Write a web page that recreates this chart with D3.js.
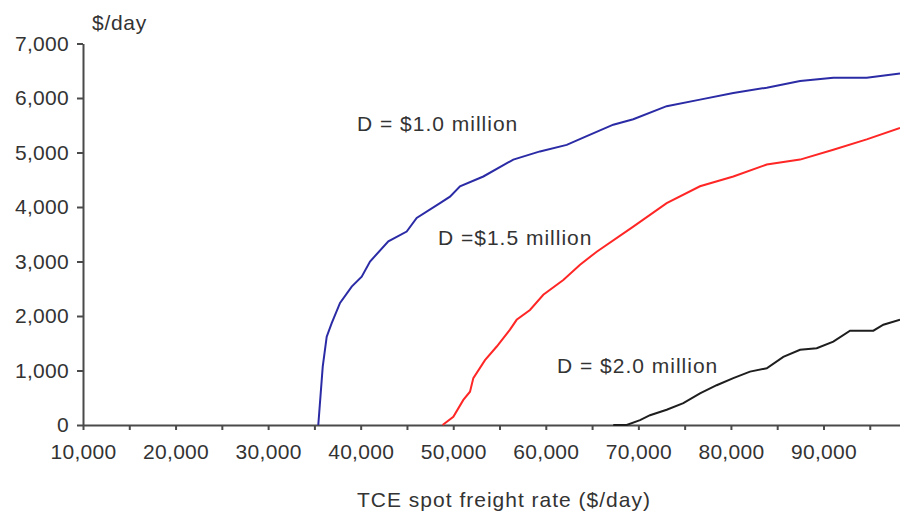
<!DOCTYPE html>
<html>
<head>
<meta charset="utf-8">
<script src="https://cdn.jsdelivr.net/npm/d3@7"></script>
<style>
  body { margin: 0; background: #fff; }
  svg { display: block; font-family: "Liberation Sans", Arial, Helvetica, sans-serif; }
  .axis path, .axis line { stroke: #4a4a4a; stroke-width: 2px; }
  .axis text { fill: #333; font-size: 21px; letter-spacing: 0.3px; }
  .lbl { fill: #333; font-size: 21px; letter-spacing: 1px; }
</style>
</head>
<body>
<div id="draw-area"></div>
<script>
// x ticks (every 5,000, labels on the 10,000s)
var xTicks = [10000, 15000, 20000, 25000, 30000, 35000, 40000, 45000, 50000, 55000, 60000, 65000, 70000, 75000, 80000, 85000, 90000, 95000];
var yTicks = [0, 1000, 2000, 3000, 4000, 5000, 6000, 7000];

// D = $1.0 million (blue)
var rate1 = [35420, 35900, 36330, 36870, 37770, 39030, 40110, 41010, 42990, 44970, 46050, 48570, 49650, 50730, 53250, 56490, 59370, 62260, 64420, 67290, 69450, 73060, 76660, 80260, 83870, 87470, 91060, 94670, 98270];
var val1  = [0, 1070, 1620, 1870, 2240, 2540, 2720, 3000, 3370, 3550, 3800, 4070, 4190, 4380, 4560, 4870, 5020, 5140, 5300, 5510, 5610, 5850, 5970, 6090, 6190, 6310, 6370, 6370, 6450];

// D = $1.5 million (red)
var rate15 = [48850, 50010, 51090, 51810, 52170, 53430, 54700, 56130, 56850, 58290, 59730, 61890, 63700, 65500, 69450, 73060, 76660, 80260, 83870, 87470, 91060, 94670, 98270];
var val15  = [0, 150, 460, 610, 860, 1190, 1440, 1750, 1930, 2110, 2390, 2660, 2940, 3180, 3640, 4070, 4380, 4560, 4780, 4870, 5050, 5240, 5450];

// D = $2.0 million (black)
var rate2 = [67290, 68740, 70180, 71260, 73060, 74860, 76660, 78460, 80260, 82060, 83870, 85660, 87470, 89270, 91060, 92870, 95390, 96470, 98270];
var val2  = [0, 0, 90, 180, 280, 400, 580, 730, 860, 980, 1040, 1250, 1380, 1410, 1530, 1730, 1730, 1840, 1930];

var labels = ["D = $1.0 million", "D =$1.5 million", "D = $2.0 million"];
var labelAt = [[39600, 5400], [48350, 3310], [61210, 955]]; // data coords of label start (baseline)

var svgw = 900, svgh = 515;

var svg = d3.select("#draw-area").append("svg")
    .attr("width", svgw)
    .attr("height", svgh);

var x = d3.scaleLinear().domain([10000, 100000]).range([83, 83 + 9 * 92.56]);
var y = d3.scaleLinear().domain([0, 7000]).range([425, 43.5]);

var fmt = d3.format(",");

svg.append("g")
    .attr("class", "x axis")
    .attr("transform", "translate(0,425)")
    .call(d3.axisBottom(x)
        .tickValues(xTicks)
        .tickSize(5)
        .tickSizeOuter(0)
        .tickPadding(14)
        .tickFormat(function(d){ return d % 10000 === 0 ? fmt(d) : ""; }));

svg.append("g")
    .attr("class", "y axis")
    .attr("transform", "translate(83,0)")
    .call(d3.axisLeft(y)
        .tickValues(yTicks)
        .tickSize(6)
        .tickSizeOuter(0)
        .tickPadding(8)
        .tickFormat(fmt));

// axis titles
svg.append("text")
    .attr("class", "lbl")
    .attr("x", 92).attr("y", 30)
    .style("letter-spacing", "0.7px")
    .text("$/day");

svg.append("text")
    .attr("class", "lbl")
    .attr("x", 504).attr("y", 507)
    .attr("text-anchor", "middle")
    .text("TCE spot freight rate ($/day)");

var line = d3.line()
    .x(function(d){ return x(d[0]); })
    .y(function(d){ return y(d[1]); });

var series = [
    {xs: rate1, ys: val1, color: "#2b2ba6"},
    {xs: rate15, ys: val15, color: "#ff2626"},
    {xs: rate2, ys: val2, color: "#1e1e1e"}
];

series.forEach(function(s){
    svg.append("path")
        .datum(d3.zip(s.xs, s.ys))
        .attr("d", line)
        .style("fill", "none")
        .style("stroke", s.color)
        .style("stroke-width", 2);
});

labels.forEach(function(t, i){
    svg.append("text")
        .attr("class", "lbl")
        .attr("x", x(labelAt[i][0]))
        .attr("y", y(labelAt[i][1]))
        .text(t);
});
</script>
</body>
</html>
